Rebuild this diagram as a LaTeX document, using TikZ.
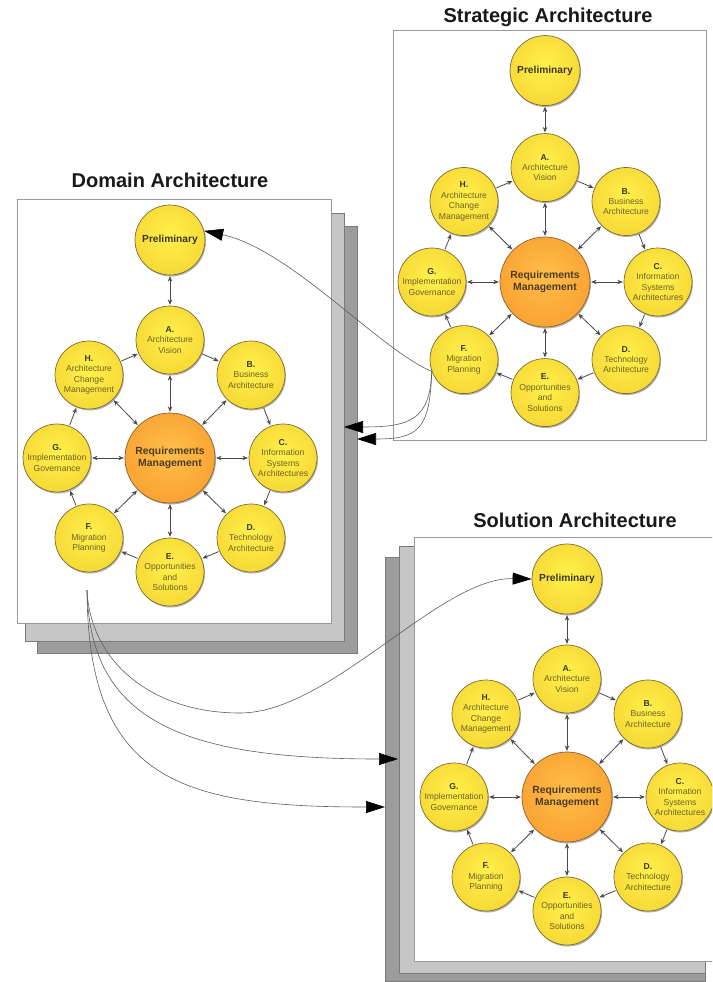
\documentclass[tikz,border=0pt]{standalone}
\usepackage{fontspec}
\setmainfont{Liberation Sans}
\usetikzlibrary{arrows.meta,shadows}

% palette
\definecolor{yin}{HTML}{FFF04C}
\definecolor{ymid}{HTML}{F7DA38}
\definecolor{yout}{HTML}{E3BC2C}
\definecolor{oin}{HTML}{FFBE4A}
\definecolor{omid}{HTML}{F9A232}
\definecolor{oout}{HTML}{E8841C}
\definecolor{discline}{HTML}{7C6C34}
\definecolor{coreline}{HTML}{8A6232}
\definecolor{phasetext}{HTML}{6E6226}
\definecolor{idtext}{HTML}{3C3828}
\definecolor{coretext}{HTML}{4C3C26}
\definecolor{linkgray}{HTML}{4A4A4A}
\definecolor{wiregray}{HTML}{5E5E5E}
\definecolor{framegray}{HTML}{9A9A9A}
\definecolor{sheetlight}{HTML}{C6C6C6}
\definecolor{sheetdark}{HTML}{9C9C9C}
\definecolor{sheetedge}{HTML}{7A7A7A}

% disc shadings: light centre, darker rim
\pgfdeclareradialshading{yellowdisc}{\pgfpoint{0bp}{4bp}}{color(0bp)=(yin); color(26bp)=(ymid); color(52bp)=(yout); color(60bp)=(yout)}
\pgfdeclareradialshading{orangedisc}{\pgfpoint{0bp}{4bp}}{color(0bp)=(oin); color(28bp)=(omid); color(52bp)=(oout); color(60bp)=(oout)}

\tikzset{
  disc/.style={circle, inner sep=0pt, align=center, line width=0.7pt, shade,
    drop shadow={shadow xshift=1pt, shadow yshift=-1.5pt, opacity=0.3, fill=black}},
  phase/.style={disc, minimum size=68pt, draw=discline, shading=yellowdisc,
    text=phasetext, font=\fontsize{8.6}{10.4}\selectfont},
  prelim/.style={phase, minimum size=70pt, text=idtext,
    font=\fontsize{10.2}{12}\selectfont\bfseries},
  core/.style={disc, minimum size=90pt, draw=coreline, shading=orangedisc,
    text=coretext, font=\fontsize{10.4}{12.6}\selectfont\bfseries},
  oneway/.style={draw=linkgray, line width=0.8pt, shorten >=0.8pt, shorten <=0.8pt,
    -{Stealth[length=5.5pt,width=4.5pt]}},
  twoway/.style={oneway, {Stealth[length=5.5pt,width=4.5pt]}-{Stealth[length=5.5pt,width=4.5pt]}},
  wire/.style={draw=wiregray, line width=0.6pt,
    -{Triangle[length=19pt,width=12pt,color=black]}},
  title/.style={inner sep=0pt, text=black!90, font=\fontsize{20}{24}\selectfont\bfseries},
  frontsheet/.style={draw=framegray, line width=0.8pt, fill=white},
  lightsheet/.style={draw=sheetedge, line width=0.8pt, fill=sheetlight},
  darksheet/.style={draw=sheetedge, line width=0.8pt, fill=sheetdark},
}

\newcommand\phaseid[1]{\textcolor{idtext}{\bfseries #1}}

% one ADM cycle: #1 name prefix, #2/#3 centre, #4 vertical factor
\newcommand\admcycle[4]{%
  \begin{scope}[shift={(#2,#3)}, yscale=#4]
    \node[core]   (#1RM) at (0,0)      {Requirements\\Management};
    \node[prelim] (#1P)  at (0,-218)   {Preliminary};
    \node[phase]  (#1A)  at (0,-118)   {\phaseid{A.}\\Architecture\\Vision};
    \node[phase]  (#1B)  at (81,-83)   {\phaseid{B.}\\Business\\Architecture};
    \node[phase]  (#1C)  at (113,0)    {\phaseid{C.}\\Information\\Systems\\Architectures};
    \node[phase]  (#1D)  at (81,80)    {\phaseid{D.}\\Technology\\Architecture};
    \node[phase]  (#1E)  at (0,114)    {\phaseid{E.}\\Opportunities\\and\\Solutions};
    \node[phase]  (#1F)  at (-81,80)   {\phaseid{F.}\\Migration\\Planning};
    \node[phase]  (#1G)  at (-113,0)   {\phaseid{G.}\\Implementation\\Governance};
    \node[phase]  (#1H)  at (-81,-83)  {\phaseid{H.}\\Architecture\\Change\\Management};
  \end{scope}
  \draw[twoway] (#1P) -- (#1A);
  \foreach \a/\b in {A/B,B/C,C/D,D/E,E/F,F/G,G/H,H/A}
    \draw[oneway] (#1\a) -- (#1\b);
  \foreach \a in {A,B,C,D,E,F,G,H}
    \draw[twoway] (#1RM) -- (#1\a);
}

\begin{document}
\begin{tikzpicture}[x=1pt, y=-1pt]
  \useasboundingbox (0,0) rectangle (712,982);
  \clip (0,0) rectangle (712,982);
  \fill[white] (0,0) rectangle (712,982);

  % strategic sheet
  \draw[frontsheet] (393,30) rectangle (706,440);
  % domain stack
  \draw[darksheet]  (37,226) rectangle (357,653);
  \draw[lightsheet] (25,213) rectangle (344,641);
  \draw[frontsheet] (17,199) rectangle (331,623);
  % solution stack
  \draw[darksheet]  (385,557) rectangle (705,981);
  \draw[lightsheet] (399,546) rectangle (705,973);
  \draw[frontsheet] (414,537) rectangle (730,961);

  % titles
  \node[title] (sTitle) at (548,17)  {Strategic Architecture};
  \node[title] (dTitle) at (170,180) {Domain Architecture};
  \node[title] (xTitle) at (575,520) {Solution Architecture};

  % the three cycles
  \admcycle{s}{545}{282}{0.97}
  \admcycle{d}{170}{458}{1}
  \admcycle{x}{567}{797}{1}

  % connector ends on the sheet stacks
  \coordinate (dIn1) at (344,427);
  \coordinate (dIn2) at (357,439);
  \coordinate (dOut) at (87,590);
  \coordinate (xIn1) at (398,759);
  \coordinate (xIn2) at (385,807);

  % strategic -> domain
  \draw[wire] (sF.200) .. controls (380,350) and (290,249) .. (dP.15);
  \draw[wire] (sF.200) .. controls (430,420) and (410,427) .. (dIn1);
  \draw[wire] (sF.200) .. controls (430,430) and (418,439) .. (dIn2);

  % domain -> solution
  \draw[wire] (dOut) .. controls (90,660) and (150,713) .. (240,713)
                     .. controls (330,713) and (440,577) .. (xP.west);
  \draw[wire] (dOut) .. controls (90,720) and (180,759) .. (xIn1);
  \draw[wire] (dOut) .. controls (88,780) and (180,807) .. (xIn2);
\end{tikzpicture}
\end{document}
